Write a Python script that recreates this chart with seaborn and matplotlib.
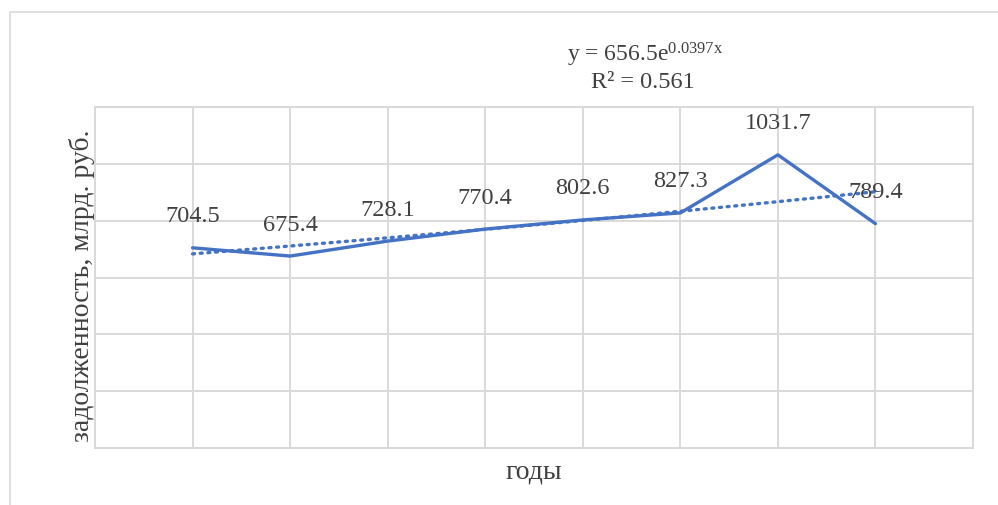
import numpy as np
import pandas as pd
import matplotlib
matplotlib.use("Agg")
import matplotlib.pyplot as plt
from matplotlib.patches import Rectangle
import seaborn as sns

# Debt by year (billion rubles)
periods = [1, 2, 3, 4, 5, 6, 7, 8]
debt = [704.5, 675.4, 728.1, 770.4, 802.6, 827.3, 1031.7, 789.4]

# Exponential trend: y = a * exp(b * x)
trend_a = 656.5
trend_b = 0.0397
trend_r2 = 0.561

y_ticks = [0, 200, 400, 600, 800, 1000, 1200]
x_ticks = list(range(0, 10))

sns.set_theme(style="white")
plt.rcParams["font.family"] = ["Liberation Serif", "DejaVu Serif"]
plt.rcParams["mathtext.fontset"] = "custom"
plt.rcParams["mathtext.rm"] = "Liberation Serif"
plt.rcParams["mathtext.it"] = "Liberation Serif"

TEXT = "#404040"
GRID = "#D9D9D9"
BLUE = "#4472C4"

fig = plt.figure(figsize=(9.98, 5.05), dpi=100)
fig.patch.set_facecolor("white")

# chart-area frame
fig.patches.append(Rectangle((10 / 998, -0.1), 1.2, 1 - 12 / 505 + 0.1,
                             transform=fig.transFigure, fill=False,
                             edgecolor=GRID, linewidth=1.2, zorder=0))

ax = fig.add_axes([95 / 998, 1 - 448 / 505, (973 - 95) / 998, (448 - 107) / 505])

df = pd.DataFrame({"period": periods, "debt": debt})
sns.lineplot(data=df, x="period", y="debt", ax=ax, color=BLUE,
             linewidth=2.4, solid_capstyle="round", zorder=3)

xs = np.linspace(periods[0], periods[-1], 200)
trend = pd.DataFrame({"period": xs, "debt": trend_a * np.exp(trend_b * xs)})
sns.lineplot(data=trend, x="period", y="debt", ax=ax, color=BLUE,
             linewidth=2.4, linestyle=(0, (0.6, 1.7)),
             dash_capstyle="round", zorder=2)

for x, y in zip(periods, debt):
    ax.annotate(f"{y:.1f}", (x, y), xytext=(0, 31), textcoords="offset pixels",
                ha="center", va="center", fontsize=17.5, color=TEXT, zorder=4)

ax.set_xlim(0, 9)
ax.set_ylim(0, 1200)
ax.set_xticks(x_ticks)
ax.set_yticks(y_ticks)
ax.set_xticklabels([])
ax.set_yticklabels([])
ax.tick_params(length=0)
ax.grid(True, color=GRID, linewidth=1.4)
for s in ax.spines.values():
    s.set_color(GRID)
    s.set_linewidth(1.4)

ax.set_xlabel("")
ax.set_ylabel("")
fig.text(82 / 998, 1 - 286 / 505, "задолженность, млрд. руб.", rotation=90,
         ha="center", va="center", fontsize=20, color=TEXT)
fig.text(534 / 998, 1 - 472 / 505, "годы", ha="center", va="center",
         fontsize=20, color=TEXT)

fig.text(645 / 998, 1 - 55 / 505,
         rf"y = {trend_a}e$^{{{trend_b}\mathrm{{x}}}}$",
         ha="center", va="center", fontsize=17, color=TEXT)
fig.text(643 / 998, 1 - 82 / 505, f"R² = {trend_r2}",
         ha="center", va="center", fontsize=17.5, color=TEXT)

fig.savefig("out.png", dpi=100, facecolor="white")
